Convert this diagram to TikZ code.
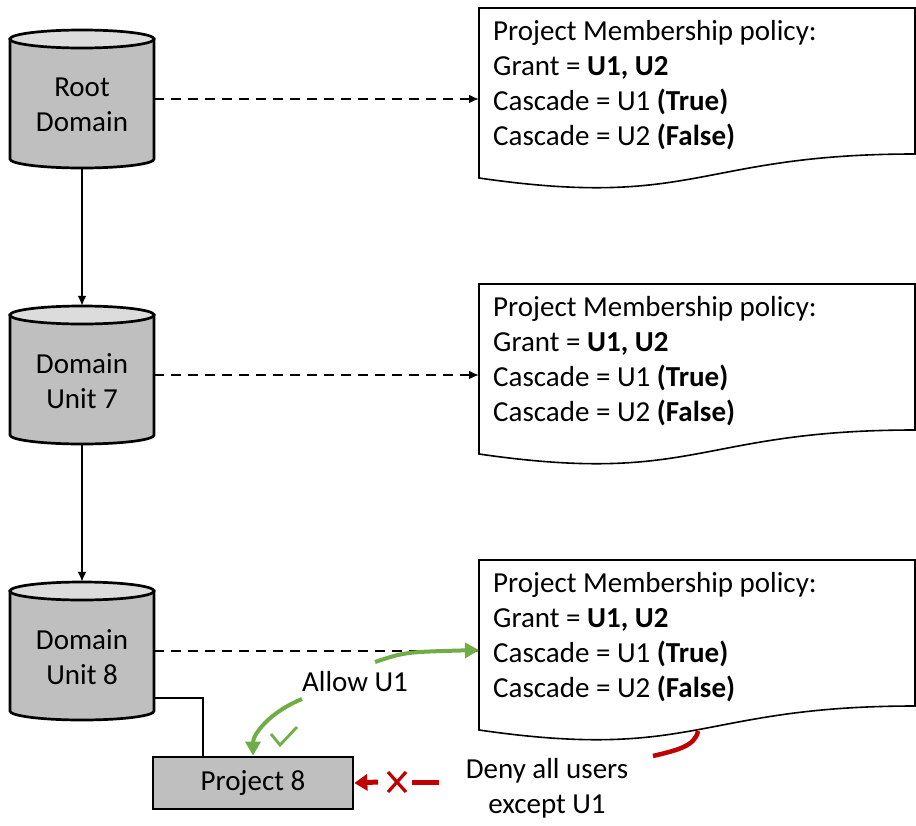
\documentclass[tikz,border=0pt]{standalone}
\usepackage{fontspec}
\setmainfont{Carlito}
\usetikzlibrary{arrows.meta}
\definecolor{cylbody}{HTML}{BFBFBF}
\definecolor{cyltop}{HTML}{DCDCDC}
\definecolor{okgreen}{HTML}{70AD47}
\definecolor{nored}{HTML}{C00000}
\newcommand\policytext{Project Membership policy:\\Grant = \textbf{U1, U2}\\Cascade = U1 \textbf{(True)}\\Cascade = U2 \textbf{(False)}}
\newcommand\dbcyl[3]{%
  \draw[cylline, fill=cylbody] (10,#2+9) -- (10,#2+129) arc[start angle=180,end angle=360,x radius=72pt,y radius=9pt] -- (154,#2+9) -- cycle;
  \draw[cylline, fill=cyltop] (82,#2+9) ellipse[x radius=72pt, y radius=9pt];
  \node[cylnode] (#1) at (82,#2+69) {};
  \node[lbl] (#1-t) at ([yshift=-6pt]#1.center) {#3};
}
\newcommand\policydoc[2]{%
  \draw[docline, fill=white] (479,#2) -- (915,#2) -- (915,#2+146) .. controls (697,#2+146) and (697,#2+201.6) .. (479,#2+170) -- cycle;
  \node[doctext] (#1) at (479,#2) {\policytext};
}
\tikzset{
 cylline/.style={line width=2.7pt},
 cylnode/.style={minimum width=144pt, minimum height=138pt, inner sep=0pt},
 lbl/.style={align=center, inner sep=0pt},
 docline/.style={line width=1.6pt},
 doctext/.style={anchor=north west, align=left, inner xsep=14pt, inner ysep=12pt},
 link/.style={line width=2.4pt, -{Latex[length=10pt,width=9pt]}},
 dlink/.style={line width=2.4pt, dash pattern=on 10pt off 7pt, -{Latex[length=10pt,width=9pt]}},
 projbox/.style={draw, line width=2.7pt, fill=cylbody, minimum width=200pt, minimum height=52pt, inner sep=0pt},
 allow/.style={okgreen, line width=4pt, -{Triangle[length=14pt,width=15pt]}},
 deny/.style={nored, line width=5pt},
}
\begin{document}
\begin{tikzpicture}[x=1pt, y=-1pt, font=\fontsize{29}{35}\selectfont]
\useasboundingbox (0,0) rectangle (916,825);
% cylinders
\dbcyl{cyl1}{30}{Root\\Domain}
\dbcyl{cyl2}{306}{Domain\\Unit 7}
\dbcyl{cyl3}{582}{Domain\\Unit 8}
% policy documents
\policydoc{doc1}{8}
\policydoc{doc2}{284}
\policydoc{doc3}{560}
% project box
\node[projbox] (p8) at (253,783) {Project 8};
% hierarchy links
\draw[link] (cyl1) -- (cyl2);
\draw[link] (cyl2) -- (cyl3);
\draw[line width=2.4pt] ([yshift=-47pt]cyl3.east) -| ([xshift=-50pt]p8.north);
% policy links
\draw[dlink] (cyl1.east) -- (cyl1.east -| doc1.west);
\draw[dlink] (cyl2.east) -- (cyl2.east -| doc2.west);
\draw[dlink] (cyl3.east) -- (cyl3.east -| doc3.west);
% allow
\coordinate (g1s) at (375,662);
\coordinate (g1e) at (479,650);
\draw[allow] (g1s) .. controls (405,652) .. (g1e);
\node[lbl] (allowlbl) at (355,682) {Allow U1};
\coordinate (g2s) at (302,699);
\draw[allow] (g2s) .. controls (268,713) and (253,735) .. (p8.north);
\draw[okgreen, line width=2.8pt] (271,734) -- (280,745) -- (297,727);
% deny
\draw[nored, line width=4.5pt] (698,731) .. controls (695,746) and (678,750) .. (653,756);
\node[lbl] (denylbl) at (547,788) {Deny all users\\except U1};
\coordinate (r0) at (439,782);
\coordinate (r1) at (412,782);
\coordinate (r2) at (378,782);
\draw[deny] (r0) -- (r1);
\draw[nored, line width=3.2pt] (388,772) -- (406,792) (388,792) -- (406,772);
\draw[deny, -{Triangle[length=13pt,width=16pt]}] (r2) -- (p8.east);
\end{tikzpicture}
\end{document}
